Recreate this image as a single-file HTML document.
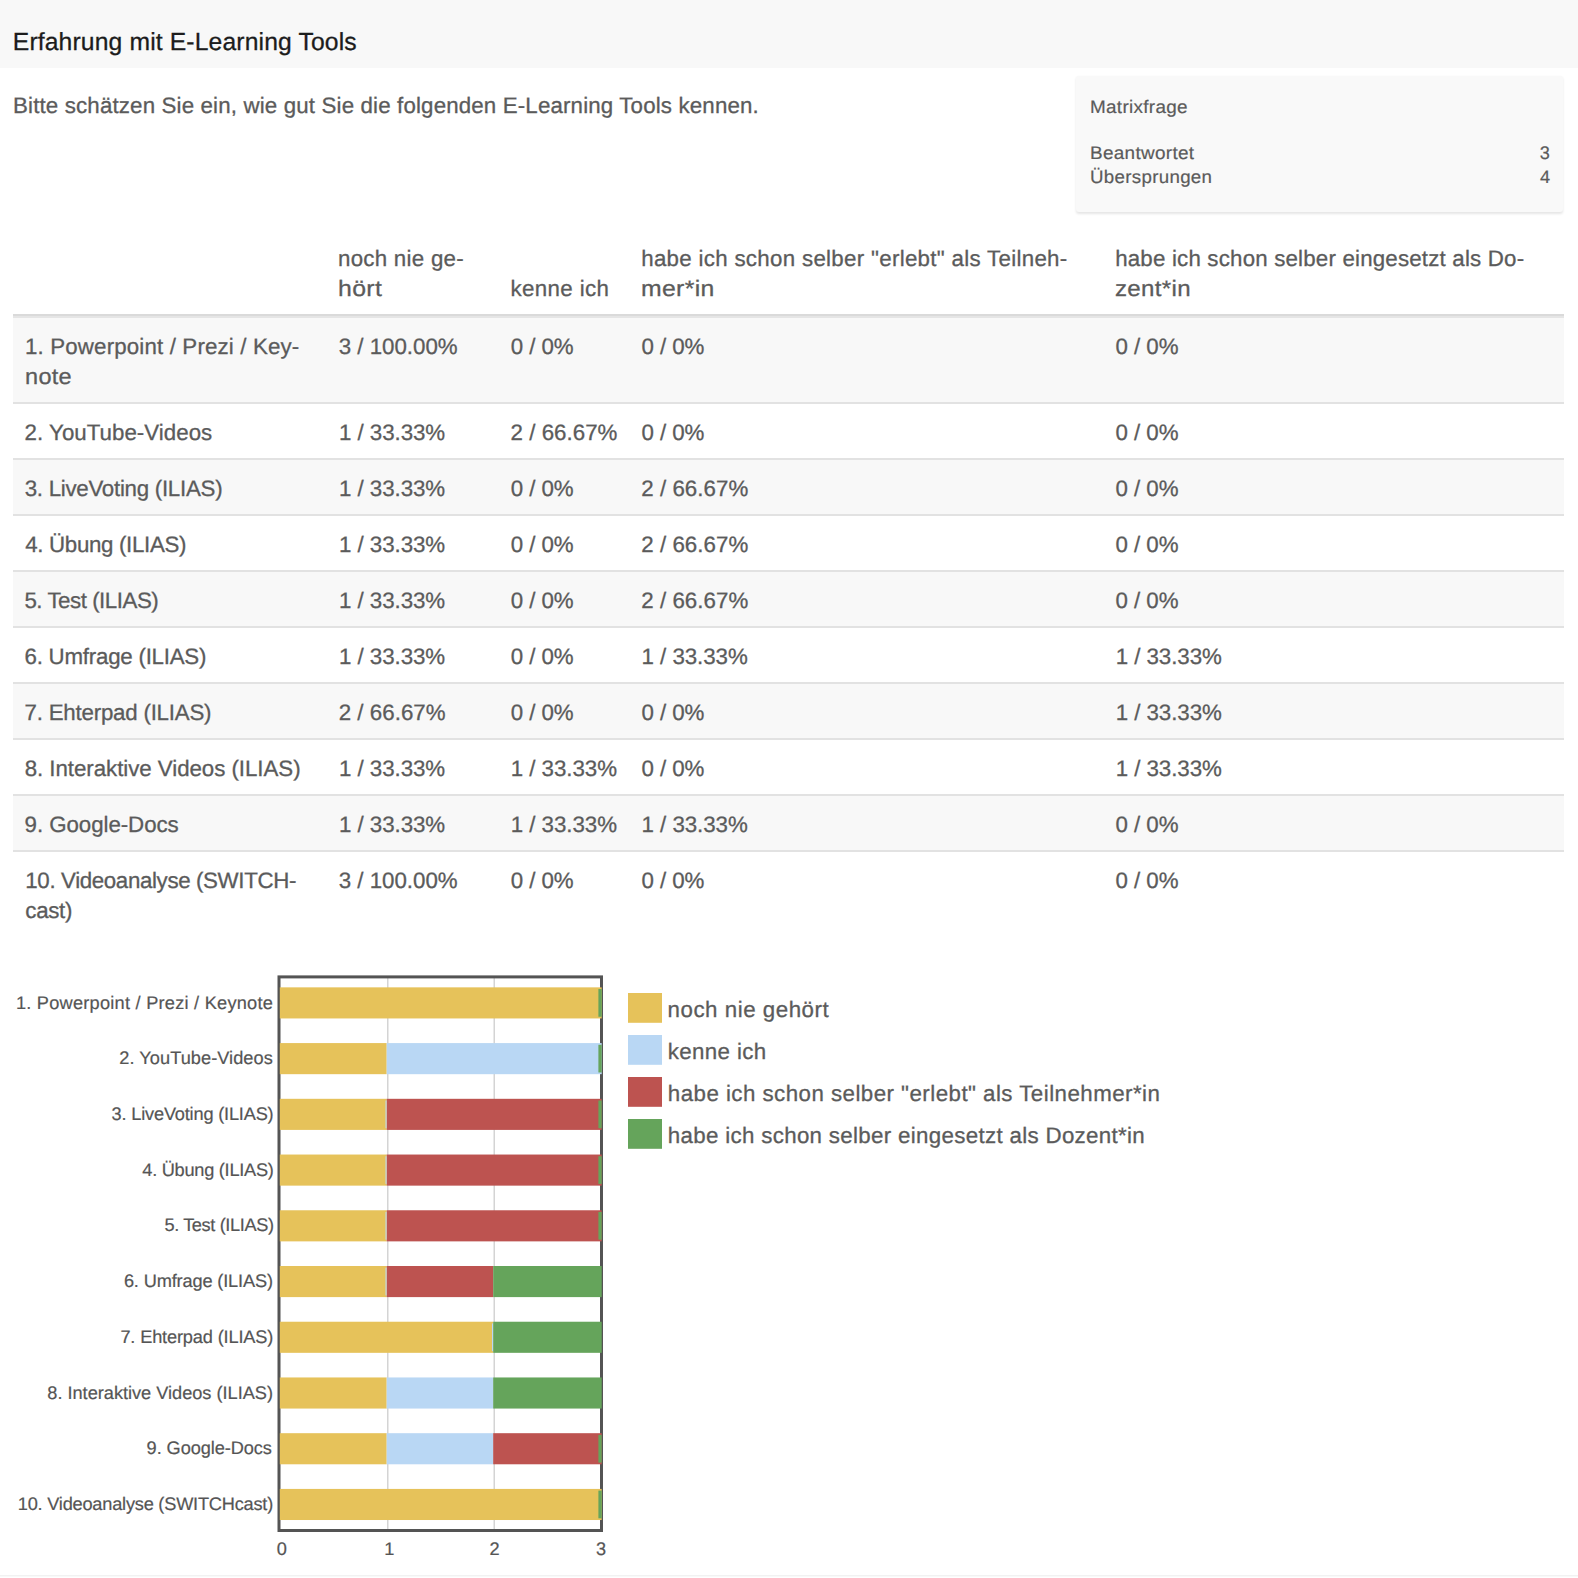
<!DOCTYPE html>
<html lang="de"><head><meta charset="utf-8"><title>Erfahrung mit E-Learning Tools</title>
<style>
html,body{margin:0;padding:0;}
body{width:1578px;height:1578px;position:relative;overflow:hidden;background:#fff;
 font-family:"Liberation Sans",sans-serif;text-rendering:geometricPrecision;color:#5b5b5b;-webkit-text-stroke:0.3px #5b5b5b;}
.a{position:absolute;white-space:nowrap;}
.x{position:absolute;white-space:nowrap;line-height:30px;}
.hd{left:0;top:0;width:1578px;height:68px;background:#f8f8f8;}
.title{color:#1c1c1c;-webkit-text-stroke:0.3px #1c1c1c;}
.c{color:#555;-webkit-text-stroke:0.2px #555;}
.w{-webkit-text-stroke:0.2px #5b5b5b;}
.well{left:1076px;top:76px;width:487px;height:135.7px;background:#f9f9f9;box-sizing:border-box;border-radius:3px;box-shadow:0 1.5px 2.5px rgba(0,0,0,.10);}
.row{left:13px;width:1551px;}
.odd{background:#f8f8f8;}
.bl{left:13px;width:1551px;height:2px;background:#e2e2e2;}
svg{position:absolute;left:0;top:0;}
</style></head>
<body>
<div class="a hd"></div>
<div class="a well"></div>
<div class="a" style="left:13px;top:314px;width:1551px;height:2px;background:#dadada"></div>
<div class="a" style="left:13px;top:316px;width:1551px;height:2px;background:#e5e5e5"></div>
<div class="a row odd" style="top:318px;height:84px"></div>
<div class="a bl" style="top:402px"></div>
<div class="a bl" style="top:458px"></div>
<div class="a row odd" style="top:460px;height:54px"></div>
<div class="a bl" style="top:514px"></div>
<div class="a bl" style="top:570px"></div>
<div class="a row odd" style="top:572px;height:54px"></div>
<div class="a bl" style="top:626px"></div>
<div class="a bl" style="top:682px"></div>
<div class="a row odd" style="top:684px;height:54px"></div>
<div class="a bl" style="top:738px"></div>
<div class="a bl" style="top:794px"></div>
<div class="a row odd" style="top:796px;height:54px"></div>
<div class="a bl" style="top:850px"></div>
<svg width="1578" height="1578" viewBox="0 0 1578 1578"><rect x="387.00" y="978" width="1.5" height="551" fill="#d4d4d4"/><rect x="493.50" y="978" width="1.5" height="551" fill="#d4d4d4"/><rect x="279" y="976.9" width="322.5" height="553.6" fill="none" stroke="#545454" stroke-width="3"/><rect x="279.80" y="987.35" width="321.90" height="31.1" fill="#e6c25a"/><rect x="598.4" y="989.05" width="3.3" height="27.7" fill="#65a45b"/><rect x="279.80" y="1043.08" width="106.90" height="31.1" fill="#e6c25a"/><rect x="386.70" y="1043.08" width="215.00" height="31.1" fill="#b9d7f4"/><rect x="598.4" y="1044.78" width="3.3" height="27.7" fill="#65a45b"/><rect x="279.80" y="1098.81" width="106.90" height="31.1" fill="#e6c25a"/><rect x="386.70" y="1098.81" width="215.00" height="31.1" fill="#bd5350"/><rect x="598.4" y="1100.51" width="3.3" height="27.7" fill="#65a45b"/><rect x="385.50" y="1100.51" width="1" height="27.7" fill="#b9d7f4"/><rect x="279.80" y="1154.54" width="106.90" height="31.1" fill="#e6c25a"/><rect x="386.70" y="1154.54" width="215.00" height="31.1" fill="#bd5350"/><rect x="598.4" y="1156.24" width="3.3" height="27.7" fill="#65a45b"/><rect x="385.50" y="1156.24" width="1" height="27.7" fill="#b9d7f4"/><rect x="279.80" y="1210.27" width="106.90" height="31.1" fill="#e6c25a"/><rect x="386.70" y="1210.27" width="215.00" height="31.1" fill="#bd5350"/><rect x="598.4" y="1211.97" width="3.3" height="27.7" fill="#65a45b"/><rect x="385.50" y="1211.97" width="1" height="27.7" fill="#b9d7f4"/><rect x="279.80" y="1266.00" width="106.90" height="31.1" fill="#e6c25a"/><rect x="386.70" y="1266.00" width="106.50" height="31.1" fill="#bd5350"/><rect x="493.20" y="1266.00" width="108.50" height="31.1" fill="#65a45b"/><rect x="385.50" y="1267.70" width="1" height="27.7" fill="#b9d7f4"/><rect x="279.80" y="1321.73" width="213.40" height="31.1" fill="#e6c25a"/><rect x="493.20" y="1321.73" width="108.50" height="31.1" fill="#65a45b"/><rect x="492.00" y="1323.43" width="1" height="27.7" fill="#b9d7f4"/><rect x="279.80" y="1377.46" width="106.90" height="31.1" fill="#e6c25a"/><rect x="386.70" y="1377.46" width="106.50" height="31.1" fill="#b9d7f4"/><rect x="493.20" y="1377.46" width="108.50" height="31.1" fill="#65a45b"/><rect x="279.80" y="1433.19" width="106.90" height="31.1" fill="#e6c25a"/><rect x="386.70" y="1433.19" width="106.50" height="31.1" fill="#b9d7f4"/><rect x="493.20" y="1433.19" width="108.50" height="31.1" fill="#bd5350"/><rect x="598.4" y="1434.89" width="3.3" height="27.7" fill="#65a45b"/><rect x="279.80" y="1488.92" width="321.90" height="31.1" fill="#e6c25a"/><rect x="598.4" y="1490.62" width="3.3" height="27.7" fill="#65a45b"/><rect x="628" y="993" width="34" height="29.8" fill="#e6c25a"/><rect x="628" y="1035" width="34" height="29.8" fill="#b9d7f4"/><rect x="628" y="1077" width="34" height="29.8" fill="#bd5350"/><rect x="628" y="1119" width="34" height="29.8" fill="#65a45b"/></svg>
<div class="x title" id="title" style="left:12.8px;top:28px;font-size:24.7px;letter-spacing:0.136px">Erfahrung mit E-Learning Tools</div>
<div class="x t" id="intro" style="left:13.0px;top:91px;font-size:22.3px;letter-spacing:0.152px">Bitte schätzen Sie ein, wie gut Sie die folgenden E-Learning Tools kennen.</div>
<div class="x w" id="w1" style="left:1089.5px;top:92px;font-size:18.2px;letter-spacing:0.300px;transform:scaleX(1.0386);transform-origin:0 0">Matrixfrage</div>
<div class="x w" id="w2" style="left:1089.7px;top:138px;font-size:18.2px;letter-spacing:0.300px;transform:scaleX(1.0405);transform-origin:0 0">Beantwortet</div>
<div class="x w" id="w3" style="left:1089.8px;top:162px;font-size:18.2px;letter-spacing:0.300px;transform:scaleX(1.0287);transform-origin:0 0">Übersprungen</div>
<div class="x w" id="w4" style="left:1539.7px;top:138px;font-size:18.2px;letter-spacing:0.000px">3</div>
<div class="x w" id="w5" style="left:1539.9px;top:162px;font-size:18.2px;letter-spacing:0.000px">4</div>
<div class="x t" id="h0" style="left:338.0px;top:244px;font-size:22.3px;letter-spacing:0.265px">noch nie ge-</div>
<div class="x t" id="h1" style="left:337.9px;top:274px;font-size:22.3px;letter-spacing:0.300px;transform:scaleX(1.1136);transform-origin:0 0">hört</div>
<div class="x t" id="h2" style="left:510.5px;top:274px;font-size:22.3px;letter-spacing:0.371px">kenne ich</div>
<div class="x t" id="h3" style="left:641.2px;top:244px;font-size:22.3px;letter-spacing:0.304px">habe ich schon selber &quot;erlebt&quot; als Teilneh-</div>
<div class="x t" id="h4" style="left:641.1px;top:274px;font-size:22.3px;letter-spacing:0.300px;transform:scaleX(1.1115);transform-origin:0 0">mer*in</div>
<div class="x t" id="h5" style="left:1115.2px;top:244px;font-size:22.3px;letter-spacing:0.188px">habe ich schon selber eingesetzt als Do-</div>
<div class="x t" id="h6" style="left:1115.3px;top:274px;font-size:22.3px;letter-spacing:0.300px;transform:scaleX(1.0802);transform-origin:0 0">zent*in</div>
<div class="x t" id="r0c0" style="left:25.0px;top:332px;font-size:22.3px;letter-spacing:0.153px">1. Powerpoint / Prezi / Key-</div>
<div class="x t" id="r0c1" style="left:338.8px;top:332px;font-size:22.3px;letter-spacing:-0.021px">3 / 100.00%</div>
<div class="x t" id="r0c2" style="left:510.7px;top:332px;font-size:22.3px;letter-spacing:-0.055px">0 / 0%</div>
<div class="x t" id="r0c3" style="left:641.5px;top:332px;font-size:22.3px;letter-spacing:-0.055px">0 / 0%</div>
<div class="x t" id="r0c4" style="left:1115.6px;top:332px;font-size:22.3px;letter-spacing:-0.055px">0 / 0%</div>
<div class="x t" id="r1c0" style="left:24.6px;top:418px;font-size:22.3px;letter-spacing:0.027px">2. YouTube-Videos</div>
<div class="x t" id="r1c1" style="left:339.0px;top:418px;font-size:22.3px;letter-spacing:-0.047px">1 / 33.33%</div>
<div class="x t" id="r1c2" style="left:510.5px;top:418px;font-size:22.3px;letter-spacing:0.036px">2 / 66.67%</div>
<div class="x t" id="r1c3" style="left:641.5px;top:418px;font-size:22.3px;letter-spacing:-0.055px">0 / 0%</div>
<div class="x t" id="r1c4" style="left:1115.6px;top:418px;font-size:22.3px;letter-spacing:-0.055px">0 / 0%</div>
<div class="x t" id="r2c0" style="left:24.7px;top:474px;font-size:22.3px;letter-spacing:-0.270px">3. LiveVoting (ILIAS)</div>
<div class="x t" id="r2c1" style="left:339.0px;top:474px;font-size:22.3px;letter-spacing:-0.047px">1 / 33.33%</div>
<div class="x t" id="r2c2" style="left:510.7px;top:474px;font-size:22.3px;letter-spacing:-0.055px">0 / 0%</div>
<div class="x t" id="r2c3" style="left:641.3px;top:474px;font-size:22.3px;letter-spacing:0.036px">2 / 66.67%</div>
<div class="x t" id="r2c4" style="left:1115.6px;top:474px;font-size:22.3px;letter-spacing:-0.055px">0 / 0%</div>
<div class="x t" id="r3c0" style="left:25.2px;top:530px;font-size:22.3px;letter-spacing:-0.321px">4. Übung (ILIAS)</div>
<div class="x t" id="r3c1" style="left:339.0px;top:530px;font-size:22.3px;letter-spacing:-0.047px">1 / 33.33%</div>
<div class="x t" id="r3c2" style="left:510.7px;top:530px;font-size:22.3px;letter-spacing:-0.055px">0 / 0%</div>
<div class="x t" id="r3c3" style="left:641.3px;top:530px;font-size:22.3px;letter-spacing:0.036px">2 / 66.67%</div>
<div class="x t" id="r3c4" style="left:1115.6px;top:530px;font-size:22.3px;letter-spacing:-0.055px">0 / 0%</div>
<div class="x t" id="r4c0" style="left:24.4px;top:586px;font-size:22.3px;letter-spacing:-0.465px">5. Test (ILIAS)</div>
<div class="x t" id="r4c1" style="left:339.0px;top:586px;font-size:22.3px;letter-spacing:-0.047px">1 / 33.33%</div>
<div class="x t" id="r4c2" style="left:510.7px;top:586px;font-size:22.3px;letter-spacing:-0.055px">0 / 0%</div>
<div class="x t" id="r4c3" style="left:641.3px;top:586px;font-size:22.3px;letter-spacing:0.036px">2 / 66.67%</div>
<div class="x t" id="r4c4" style="left:1115.6px;top:586px;font-size:22.3px;letter-spacing:-0.055px">0 / 0%</div>
<div class="x t" id="r5c0" style="left:24.5px;top:642px;font-size:22.3px;letter-spacing:-0.231px">6. Umfrage (ILIAS)</div>
<div class="x t" id="r5c1" style="left:339.0px;top:642px;font-size:22.3px;letter-spacing:-0.047px">1 / 33.33%</div>
<div class="x t" id="r5c2" style="left:510.7px;top:642px;font-size:22.3px;letter-spacing:-0.055px">0 / 0%</div>
<div class="x t" id="r5c3" style="left:641.6px;top:642px;font-size:22.3px;letter-spacing:-0.047px">1 / 33.33%</div>
<div class="x t" id="r5c4" style="left:1115.7px;top:642px;font-size:22.3px;letter-spacing:-0.047px">1 / 33.33%</div>
<div class="x t" id="r6c0" style="left:24.5px;top:698px;font-size:22.3px;letter-spacing:-0.213px">7. Ehterpad (ILIAS)</div>
<div class="x t" id="r6c1" style="left:338.7px;top:698px;font-size:22.3px;letter-spacing:0.036px">2 / 66.67%</div>
<div class="x t" id="r6c2" style="left:510.7px;top:698px;font-size:22.3px;letter-spacing:-0.055px">0 / 0%</div>
<div class="x t" id="r6c3" style="left:641.5px;top:698px;font-size:22.3px;letter-spacing:-0.055px">0 / 0%</div>
<div class="x t" id="r6c4" style="left:1115.7px;top:698px;font-size:22.3px;letter-spacing:-0.047px">1 / 33.33%</div>
<div class="x t" id="r7c0" style="left:24.7px;top:754px;font-size:22.3px;letter-spacing:-0.047px">8. Interaktive Videos (ILIAS)</div>
<div class="x t" id="r7c1" style="left:339.0px;top:754px;font-size:22.3px;letter-spacing:-0.047px">1 / 33.33%</div>
<div class="x t" id="r7c2" style="left:510.8px;top:754px;font-size:22.3px;letter-spacing:-0.047px">1 / 33.33%</div>
<div class="x t" id="r7c3" style="left:641.5px;top:754px;font-size:22.3px;letter-spacing:-0.055px">0 / 0%</div>
<div class="x t" id="r7c4" style="left:1115.7px;top:754px;font-size:22.3px;letter-spacing:-0.047px">1 / 33.33%</div>
<div class="x t" id="r8c0" style="left:24.6px;top:810px;font-size:22.3px;letter-spacing:-0.061px">9. Google-Docs</div>
<div class="x t" id="r8c1" style="left:339.0px;top:810px;font-size:22.3px;letter-spacing:-0.047px">1 / 33.33%</div>
<div class="x t" id="r8c2" style="left:510.8px;top:810px;font-size:22.3px;letter-spacing:-0.047px">1 / 33.33%</div>
<div class="x t" id="r8c3" style="left:641.6px;top:810px;font-size:22.3px;letter-spacing:-0.047px">1 / 33.33%</div>
<div class="x t" id="r8c4" style="left:1115.6px;top:810px;font-size:22.3px;letter-spacing:-0.055px">0 / 0%</div>
<div class="x t" id="r9c0" style="left:25.3px;top:866px;font-size:22.3px;letter-spacing:-0.360px">10. Videoanalyse (SWITCH-</div>
<div class="x t" id="r9c1" style="left:338.8px;top:866px;font-size:22.3px;letter-spacing:-0.021px">3 / 100.00%</div>
<div class="x t" id="r9c2" style="left:510.7px;top:866px;font-size:22.3px;letter-spacing:-0.055px">0 / 0%</div>
<div class="x t" id="r9c3" style="left:641.5px;top:866px;font-size:22.3px;letter-spacing:-0.055px">0 / 0%</div>
<div class="x t" id="r9c4" style="left:1115.6px;top:866px;font-size:22.3px;letter-spacing:-0.055px">0 / 0%</div>
<div class="x t" id="r0c0b" style="left:24.7px;top:362px;font-size:22.3px;letter-spacing:0.300px;transform:scaleX(1.0537);transform-origin:0 0">note</div>
<div class="x t" id="r9c0b" style="left:25.3px;top:896px;font-size:22.3px;letter-spacing:-0.319px">cast)</div>
<div class="x c" id="cl0" style="left:15.9px;top:988px;font-size:18.2px;letter-spacing:0.243px">1. Powerpoint / Prezi / Keynote</div>
<div class="x c" id="cl1" style="left:119.3px;top:1043px;font-size:18.2px;letter-spacing:0.047px">2. YouTube-Videos</div>
<div class="x c" id="cl2" style="left:111.6px;top:1099px;font-size:18.2px;letter-spacing:-0.186px">3. LiveVoting (ILIAS)</div>
<div class="x c" id="cl3" style="left:142.3px;top:1155px;font-size:18.2px;letter-spacing:-0.263px">4. Übung (ILIAS)</div>
<div class="x c" id="cl4" style="left:164.4px;top:1210px;font-size:18.2px;letter-spacing:-0.380px">5. Test (ILIAS)</div>
<div class="x c" id="cl5" style="left:123.9px;top:1266px;font-size:18.2px;letter-spacing:-0.146px">6. Umfrage (ILIAS)</div>
<div class="x c" id="cl6" style="left:120.4px;top:1322px;font-size:18.2px;letter-spacing:-0.153px">7. Ehterpad (ILIAS)</div>
<div class="x c" id="cl7" style="left:47.3px;top:1378px;font-size:18.2px;letter-spacing:-0.015px">8. Interaktive Videos (ILIAS)</div>
<div class="x c" id="cl8" style="left:146.6px;top:1433px;font-size:18.2px;letter-spacing:-0.077px">9. Google-Docs</div>
<div class="x c" id="cl9" style="left:17.8px;top:1489px;font-size:18.2px;letter-spacing:-0.217px">10. Videoanalyse (SWITCHcast)</div>
<div class="x c" id="tk0" style="left:276.7px;top:1534px;font-size:18.2px;letter-spacing:0.000px">0</div>
<div class="x c" id="tk1" style="left:384.2px;top:1534px;font-size:18.2px;letter-spacing:0.000px">1</div>
<div class="x c" id="tk2" style="left:489.4px;top:1534px;font-size:18.2px;letter-spacing:0.000px">2</div>
<div class="x c" id="tk3" style="left:596.0px;top:1534px;font-size:18.2px;letter-spacing:0.000px">3</div>
<div class="x t" id="lg0" style="left:667.6px;top:995px;font-size:22.3px;letter-spacing:0.524px">noch nie gehört</div>
<div class="x t" id="lg1" style="left:667.7px;top:1037px;font-size:22.3px;letter-spacing:0.384px">kenne ich</div>
<div class="x t" id="lg2" style="left:667.8px;top:1079px;font-size:22.3px;letter-spacing:0.464px">habe ich schon selber &quot;erlebt&quot; als Teilnehmer*in</div>
<div class="x t" id="lg3" style="left:667.8px;top:1121px;font-size:22.3px;letter-spacing:0.325px">habe ich schon selber eingesetzt als Dozent*in</div>
<div class="a" style="left:0;top:1575px;width:1578px;height:1px;background:#f2f2f2"></div>
<div class="a" style="left:0;top:1576px;width:1578px;height:1px;background:#f9f9f9"></div>
</body></html>
